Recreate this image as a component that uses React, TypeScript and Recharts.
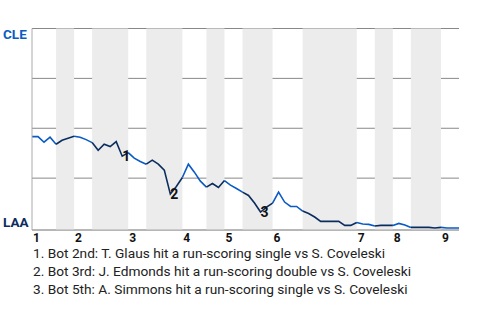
import { LineChart, Line, XAxis, YAxis, CartesianGrid, ReferenceArea, LabelList } from "recharts";

// Plays per half-inning (top 1, bottom 1, top 2, ...)
const halfInningPlays = [4, 3, 3, 6, 3, 6, 4, 3, 3, 5, 5, 9, 3, 3, 3, 5, 3];
const inningLabels = ["1", "2", "3", "4", "5", "6", "7", "8", "9"];

// CLE win probability (%) after each play
const cleWinPct = [
  45.8, 45.8, 43, 45.5, 42, 44, 45, 46, 45.5, 44.3,
  42.8, 39, 42, 40.8, 43.3, 36, 37.8, 35, 33.3, 32,
  34, 32, 29, 17, 20.8, 25.3, 32, 28, 23.5, 20.5,
  22.3, 20.3, 23.8, 21.5, 19.8, 18, 16.3, 12.5, 8, 10.5,
  12.5, 18, 13, 10.8, 10.8, 8.5, 7.3, 5.5, 3.3, 3.3,
  3.3, 3.3, 1.3, 1.3, 2.8, 2, 1.8, 1, 1.3, 1.3,
  1.3, 2.3, 1.5, 0.3, 0.3, 0.3, 0.3, 0, 0.3, 0,
  0, 0,
];

// Key plays marked on the line
const keyPlays = [15, 23, 38];
const keyPlayNotes = [
  "1. Bot 2nd: T. Glaus hit a run-scoring single vs S. Coveleski",
  "2. Bot 3rd: J. Edmonds hit a run-scoring double vs S. Coveleski",
  "3. Bot 5th: A. Simmons hit a run-scoring single vs S. Coveleski",
];

const TOP_COLOR = "#0a5bc4";
const BOT_COLOR = "#0b2d5e";

// half-inning start positions
const halfStarts: number[] = [];
halfInningPlays.reduce((acc, n) => {
  halfStarts.push(acc);
  return acc + n;
}, 0);
const lastPlay = cleWinPct.length - 1;
const inningStarts = halfStarts.filter((_, i) => i % 2 === 0);

const isInHalf = (play: number, parity: number) =>
  halfStarts.some((s, h) => h % 2 === parity && play >= s && play <= s + halfInningPlays[h]);

const rows = cleWinPct.map((v, play) => {
  const k = keyPlays.indexOf(play);
  return {
    play,
    top: isInHalf(play, 0) ? v : null,
    bot: isInHalf(play, 1) ? v : null,
    mark: k >= 0 ? String(k + 1) : "",
  };
});

const XTick = (props: any) => {
  const { x, y, index } = props;
  return (
    <text x={x + 1} y={y + 11.7} fontSize={12} fontWeight="bold" fill="#111" fontFamily="Roboto">
      {inningLabels[index]}
    </text>
  );
};

const YTick = (props: any) => {
  const { y, payload } = props;
  if (payload.value === 100)
    return (
      <text x={3} y={y + 10.5} fontSize={13.5} fontWeight="bold" fill={TOP_COLOR} fontFamily="Roboto">
        CLE
      </text>
    );
  if (payload.value === -1)
    return (
      <text x={3} y={y - 3.3} fontSize={13.5} fontWeight="bold" fill={BOT_COLOR} fontFamily="Roboto">
        LAA
      </text>
    );
  return null;
};

const MarkLabel = (props: any) => {
  const { x, y, value } = props;
  if (!value) return null;
  return (
    <text x={x} y={y} dy="0.36em" fontSize={14} fontWeight="bold" fill="#111" fontFamily="Roboto">
      {value}
    </text>
  );
};

export default function App() {
  return (
    <div style={{ position: "absolute", left: 0, top: 0, width: 480, height: 320, background: "#fff" }}>
      <LineChart width={480} height={245} data={rows} margin={{ top: 28.5, right: 21, bottom: 0, left: 0 }}>
        {halfStarts.map((s, h) =>
          h % 2 === 1 ? (
            <ReferenceArea
              key={h}
              x1={s}
              x2={s + halfInningPlays[h]}
              fill="#ececec"
              fillOpacity={1}
              stroke="none"
            />
          ) : null
        )}
        <CartesianGrid vertical={false} stroke="#888" />
        <XAxis
          type="number"
          dataKey="play"
          domain={[0, lastPlay]}
          ticks={inningStarts}
          height={15}
          tickSize={0}
          tickMargin={0}
          tickLine={false}
          axisLine={{ stroke: "#aaa" }}
          tick={<XTick />}
          interval={0}
        />
        <YAxis
          type="number"
          domain={[-1, 100]}
          ticks={[-1, 25, 50, 75, 100]}
          width={32}
          tickLine={false}
          axisLine={{ stroke: "#aaa" }}
          tick={<YTick />}
          interval={0}
        />
        <Line dataKey="top" stroke={TOP_COLOR} strokeWidth={1.6} dot={false} isAnimationActive={false} connectNulls={false} />
        <Line dataKey="bot" stroke={BOT_COLOR} strokeWidth={1.6} dot={false} isAnimationActive={false} connectNulls={false}>
          <LabelList dataKey="mark" content={<MarkLabel />} />
        </Line>
      </LineChart>
      <svg width={480} height={75} style={{ position: "absolute", left: 0, top: 245 }}>
        {keyPlayNotes.map((t, i) => (
          <text key={i} x={33} y={13.3 + i * 18} fontSize={13.7} fill="#222" fontFamily="Roboto">
            {t}
          </text>
        ))}
      </svg>
    </div>
  );
}
